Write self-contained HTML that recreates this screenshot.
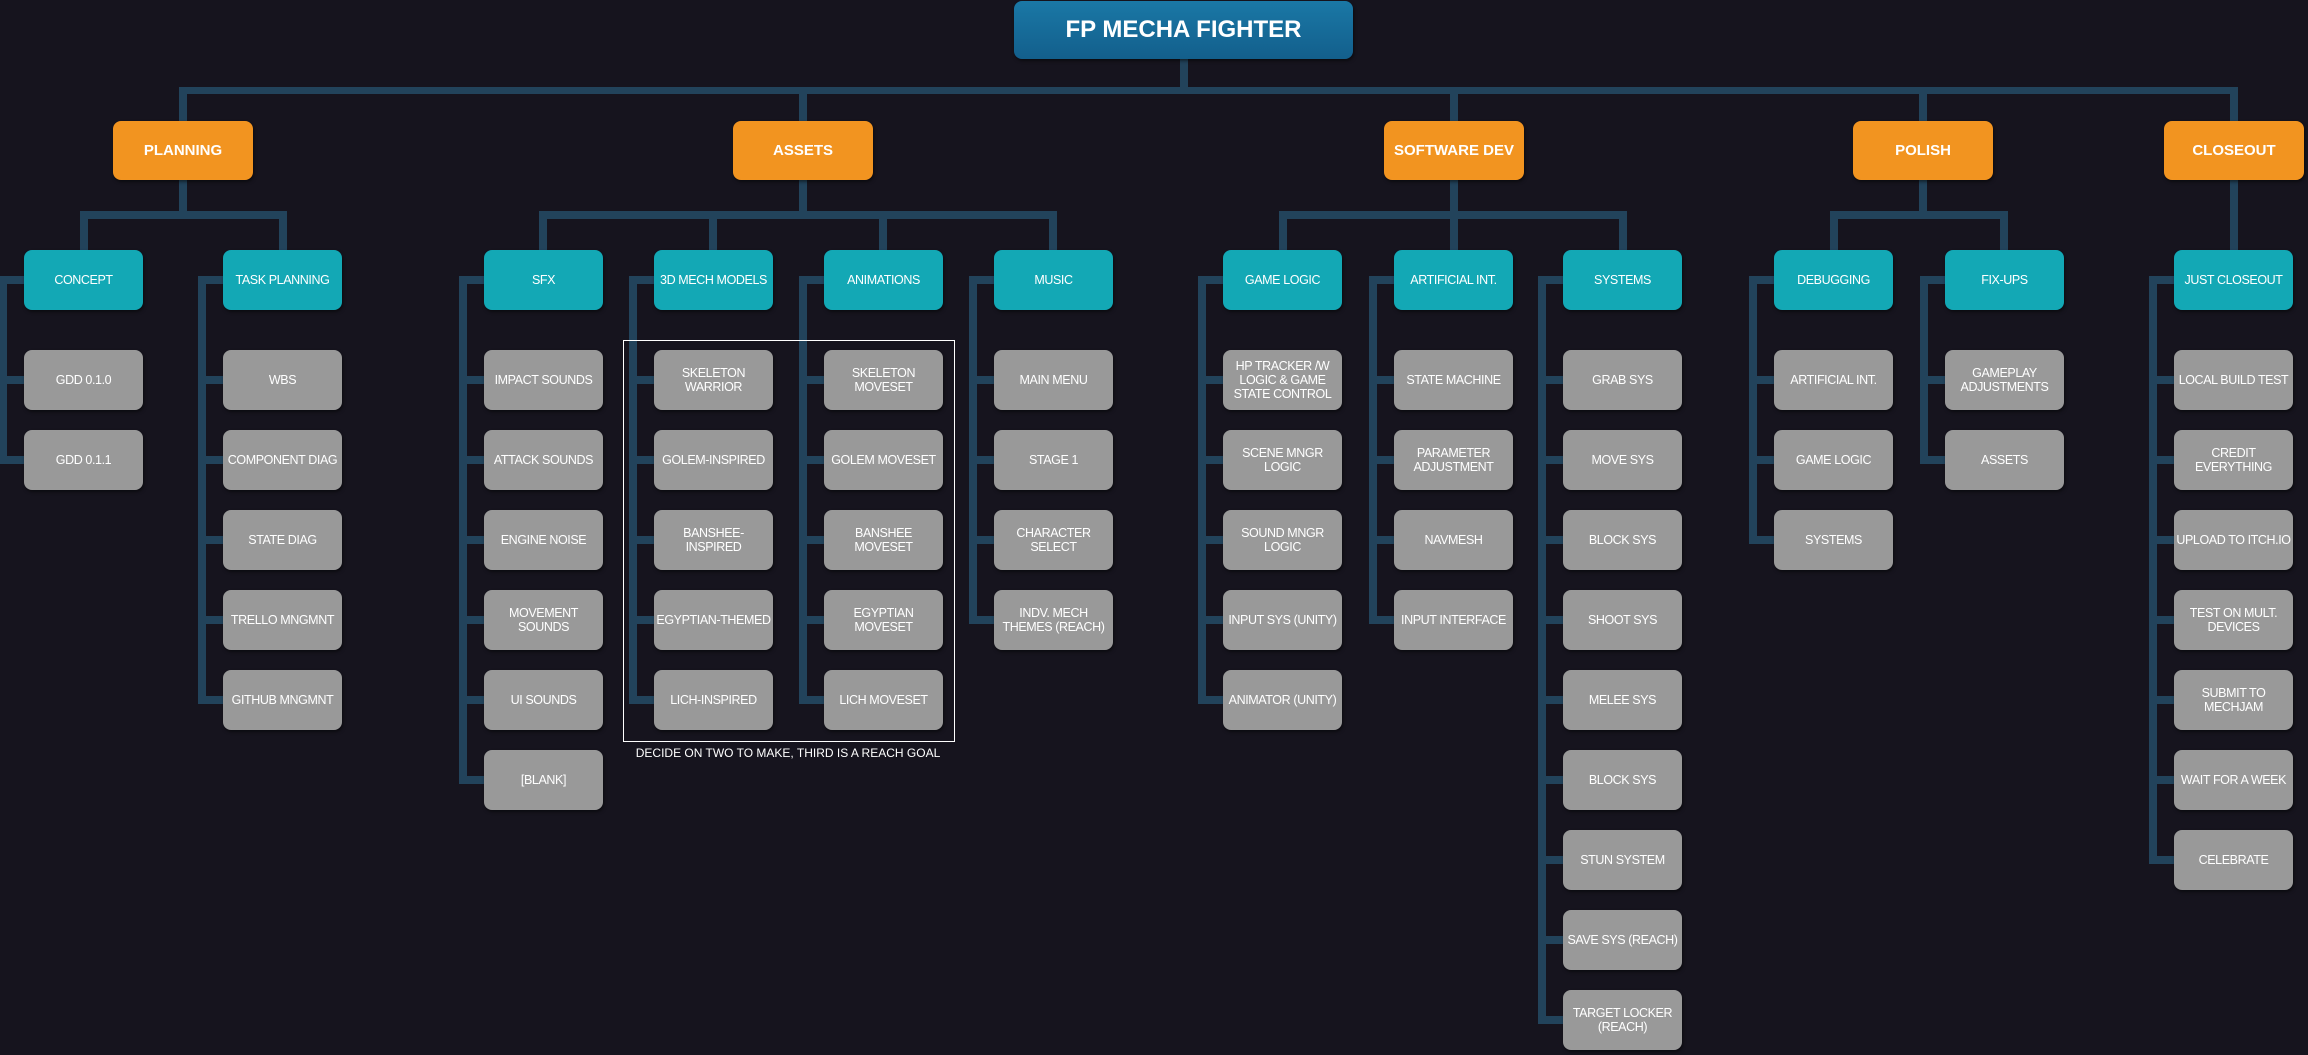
<!DOCTYPE html>
<html><head><meta charset="utf-8"><style>
html,body{margin:0;padding:0}
body{width:2308px;height:1055px;background:#16141e;position:relative;overflow:hidden;font-family:"Liberation Sans",sans-serif}
.l{position:absolute;background:#22435b}
.b{position:absolute;width:119px;height:60px;border-radius:8px;display:flex;align-items:center;justify-content:center;text-align:center;color:#fff;font-size:12.5px;letter-spacing:-0.4px;line-height:14px;white-space:nowrap;box-shadow:1px 2px 3px rgba(0,0,0,.5);box-sizing:border-box;padding:0}
.g{background:#999}
.t{background:#13a8b5}
.o{background:#f29420;width:140px;height:59px;font-weight:bold;font-size:15px;letter-spacing:0}
</style></head><body>
<!-- top -->
<div class="l" style="left:1180px;top:59px;width:8px;height:35px"></div>
<div class="l" style="left:179px;top:87px;width:2059px;height:7px"></div>
<div class="l" style="left:179px;top:87px;width:8px;height:34px"></div>
<div class="l" style="left:799px;top:87px;width:8px;height:34px"></div>
<div class="l" style="left:1450px;top:87px;width:8px;height:34px"></div>
<div class="l" style="left:1919px;top:87px;width:8px;height:34px"></div>
<div class="l" style="left:2230px;top:87px;width:8px;height:34px"></div>
<!-- L1 to L2 -->
<div class="l" style="left:179px;top:180px;width:8px;height:39px"></div>
<div class="l" style="left:80px;top:211px;width:207px;height:8px"></div>
<div class="l" style="left:80px;top:211px;width:8px;height:39px"></div>
<div class="l" style="left:279px;top:211px;width:8px;height:39px"></div>
<div class="l" style="left:799px;top:180px;width:8px;height:39px"></div>
<div class="l" style="left:539px;top:211px;width:518px;height:8px"></div>
<div class="l" style="left:539px;top:211px;width:8px;height:39px"></div>
<div class="l" style="left:709px;top:211px;width:8px;height:39px"></div>
<div class="l" style="left:879px;top:211px;width:8px;height:39px"></div>
<div class="l" style="left:1049px;top:211px;width:8px;height:39px"></div>
<div class="l" style="left:1450px;top:180px;width:8px;height:39px"></div>
<div class="l" style="left:1279px;top:211px;width:348px;height:8px"></div>
<div class="l" style="left:1279px;top:211px;width:8px;height:39px"></div>
<div class="l" style="left:1450px;top:211px;width:8px;height:39px"></div>
<div class="l" style="left:1619px;top:211px;width:8px;height:39px"></div>
<div class="l" style="left:1919px;top:180px;width:8px;height:39px"></div>
<div class="l" style="left:1830px;top:211px;width:178px;height:8px"></div>
<div class="l" style="left:1830px;top:211px;width:8px;height:39px"></div>
<div class="l" style="left:2000px;top:211px;width:8px;height:39px"></div>
<div class="l" style="left:2230px;top:180px;width:8px;height:70px"></div>
<!-- branches -->
<div class="l" style="left:-1px;top:276px;width:8px;height:188px"></div>
<div class="l" style="left:198px;top:276px;width:8px;height:428px"></div>
<div class="l" style="left:459px;top:276px;width:8px;height:508px"></div>
<div class="l" style="left:629px;top:276px;width:8px;height:428px"></div>
<div class="l" style="left:799px;top:276px;width:8px;height:428px"></div>
<div class="l" style="left:969px;top:276px;width:8px;height:348px"></div>
<div class="l" style="left:1198px;top:276px;width:8px;height:428px"></div>
<div class="l" style="left:1369px;top:276px;width:8px;height:348px"></div>
<div class="l" style="left:1538px;top:276px;width:8px;height:748px"></div>
<div class="l" style="left:1749px;top:276px;width:8px;height:268px"></div>
<div class="l" style="left:1920px;top:276px;width:8px;height:188px"></div>
<div class="l" style="left:2149px;top:276px;width:8px;height:588px"></div>
<!-- stubs -->
<div class="l" style="left:-1px;top:276px;width:25px;height:8px"></div><div class="l" style="left:-1px;top:376px;width:25px;height:8px"></div><div class="l" style="left:-1px;top:456px;width:25px;height:8px"></div>
<div class="l" style="left:198px;top:276px;width:25px;height:8px"></div><div class="l" style="left:198px;top:376px;width:25px;height:8px"></div><div class="l" style="left:198px;top:456px;width:25px;height:8px"></div><div class="l" style="left:198px;top:536px;width:25px;height:8px"></div><div class="l" style="left:198px;top:616px;width:25px;height:8px"></div><div class="l" style="left:198px;top:696px;width:25px;height:8px"></div>
<div class="l" style="left:459px;top:276px;width:25px;height:8px"></div><div class="l" style="left:459px;top:376px;width:25px;height:8px"></div><div class="l" style="left:459px;top:456px;width:25px;height:8px"></div><div class="l" style="left:459px;top:536px;width:25px;height:8px"></div><div class="l" style="left:459px;top:616px;width:25px;height:8px"></div><div class="l" style="left:459px;top:696px;width:25px;height:8px"></div><div class="l" style="left:459px;top:776px;width:25px;height:8px"></div>
<div class="l" style="left:629px;top:276px;width:25px;height:8px"></div><div class="l" style="left:629px;top:376px;width:25px;height:8px"></div><div class="l" style="left:629px;top:456px;width:25px;height:8px"></div><div class="l" style="left:629px;top:536px;width:25px;height:8px"></div><div class="l" style="left:629px;top:616px;width:25px;height:8px"></div><div class="l" style="left:629px;top:696px;width:25px;height:8px"></div>
<div class="l" style="left:799px;top:276px;width:25px;height:8px"></div><div class="l" style="left:799px;top:376px;width:25px;height:8px"></div><div class="l" style="left:799px;top:456px;width:25px;height:8px"></div><div class="l" style="left:799px;top:536px;width:25px;height:8px"></div><div class="l" style="left:799px;top:616px;width:25px;height:8px"></div><div class="l" style="left:799px;top:696px;width:25px;height:8px"></div>
<div class="l" style="left:969px;top:276px;width:25px;height:8px"></div><div class="l" style="left:969px;top:376px;width:25px;height:8px"></div><div class="l" style="left:969px;top:456px;width:25px;height:8px"></div><div class="l" style="left:969px;top:536px;width:25px;height:8px"></div><div class="l" style="left:969px;top:616px;width:25px;height:8px"></div>
<div class="l" style="left:1198px;top:276px;width:25px;height:8px"></div><div class="l" style="left:1198px;top:376px;width:25px;height:8px"></div><div class="l" style="left:1198px;top:456px;width:25px;height:8px"></div><div class="l" style="left:1198px;top:536px;width:25px;height:8px"></div><div class="l" style="left:1198px;top:616px;width:25px;height:8px"></div><div class="l" style="left:1198px;top:696px;width:25px;height:8px"></div>
<div class="l" style="left:1369px;top:276px;width:25px;height:8px"></div><div class="l" style="left:1369px;top:376px;width:25px;height:8px"></div><div class="l" style="left:1369px;top:456px;width:25px;height:8px"></div><div class="l" style="left:1369px;top:536px;width:25px;height:8px"></div><div class="l" style="left:1369px;top:616px;width:25px;height:8px"></div>
<div class="l" style="left:1538px;top:276px;width:25px;height:8px"></div><div class="l" style="left:1538px;top:376px;width:25px;height:8px"></div><div class="l" style="left:1538px;top:456px;width:25px;height:8px"></div><div class="l" style="left:1538px;top:536px;width:25px;height:8px"></div><div class="l" style="left:1538px;top:616px;width:25px;height:8px"></div><div class="l" style="left:1538px;top:696px;width:25px;height:8px"></div><div class="l" style="left:1538px;top:776px;width:25px;height:8px"></div><div class="l" style="left:1538px;top:856px;width:25px;height:8px"></div><div class="l" style="left:1538px;top:936px;width:25px;height:8px"></div><div class="l" style="left:1538px;top:1016px;width:25px;height:8px"></div>
<div class="l" style="left:1749px;top:276px;width:25px;height:8px"></div><div class="l" style="left:1749px;top:376px;width:25px;height:8px"></div><div class="l" style="left:1749px;top:456px;width:25px;height:8px"></div><div class="l" style="left:1749px;top:536px;width:25px;height:8px"></div>
<div class="l" style="left:1920px;top:276px;width:25px;height:8px"></div><div class="l" style="left:1920px;top:376px;width:25px;height:8px"></div><div class="l" style="left:1920px;top:456px;width:25px;height:8px"></div>
<div class="l" style="left:2149px;top:276px;width:25px;height:8px"></div><div class="l" style="left:2149px;top:376px;width:25px;height:8px"></div><div class="l" style="left:2149px;top:456px;width:25px;height:8px"></div><div class="l" style="left:2149px;top:536px;width:25px;height:8px"></div><div class="l" style="left:2149px;top:616px;width:25px;height:8px"></div><div class="l" style="left:2149px;top:696px;width:25px;height:8px"></div><div class="l" style="left:2149px;top:776px;width:25px;height:8px"></div><div class="l" style="left:2149px;top:856px;width:25px;height:8px"></div>

<div style="position:absolute;left:623px;top:340px;width:330px;height:400px;border:1px solid #fff"></div>
<div style="position:absolute;left:623px;top:746px;width:330px;text-align:center;color:#fff;font-size:12px">DECIDE ON TWO TO MAKE, THIRD IS A REACH GOAL</div>

<div class="b" style="left:1014px;top:1px;width:339px;height:58px;background:linear-gradient(#1a78a6,#135f8c);font-size:24px;font-weight:bold;letter-spacing:0">FP MECHA FIGHTER</div>
<div class="b o" style="left:113px;top:121px">PLANNING</div>
<div class="b o" style="left:733px;top:121px">ASSETS</div>
<div class="b o" style="left:1384px;top:121px">SOFTWARE DEV</div>
<div class="b o" style="left:1853px;top:121px">POLISH</div>
<div class="b o" style="left:2164px;top:121px">CLOSEOUT</div>

<div class="b t" style="left:24px;top:250px">CONCEPT</div>
<div class="b t" style="left:223px;top:250px">TASK PLANNING</div>
<div class="b t" style="left:484px;top:250px">SFX</div>
<div class="b t" style="left:654px;top:250px">3D MECH MODELS</div>
<div class="b t" style="left:824px;top:250px">ANIMATIONS</div>
<div class="b t" style="left:994px;top:250px">MUSIC</div>
<div class="b t" style="left:1223px;top:250px">GAME LOGIC</div>
<div class="b t" style="left:1394px;top:250px">ARTIFICIAL INT.</div>
<div class="b t" style="left:1563px;top:250px">SYSTEMS</div>
<div class="b t" style="left:1774px;top:250px">DEBUGGING</div>
<div class="b t" style="left:1945px;top:250px">FIX-UPS</div>
<div class="b t" style="left:2174px;top:250px">JUST CLOSEOUT</div>

<div class="b g" style="left:24px;top:350px">GDD 0.1.0</div>
<div class="b g" style="left:24px;top:430px">GDD 0.1.1</div>

<div class="b g" style="left:223px;top:350px">WBS</div>
<div class="b g" style="left:223px;top:430px">COMPONENT DIAG</div>
<div class="b g" style="left:223px;top:510px">STATE DIAG</div>
<div class="b g" style="left:223px;top:590px">TRELLO MNGMNT</div>
<div class="b g" style="left:223px;top:670px">GITHUB MNGMNT</div>

<div class="b g" style="left:484px;top:350px">IMPACT SOUNDS</div>
<div class="b g" style="left:484px;top:430px">ATTACK SOUNDS</div>
<div class="b g" style="left:484px;top:510px">ENGINE NOISE</div>
<div class="b g" style="left:484px;top:590px">MOVEMENT<br>SOUNDS</div>
<div class="b g" style="left:484px;top:670px">UI SOUNDS</div>
<div class="b g" style="left:484px;top:750px">[BLANK]</div>

<div class="b g" style="left:654px;top:350px">SKELETON<br>WARRIOR</div>
<div class="b g" style="left:654px;top:430px">GOLEM-INSPIRED</div>
<div class="b g" style="left:654px;top:510px">BANSHEE-<br>INSPIRED</div>
<div class="b g" style="left:654px;top:590px">EGYPTIAN-THEMED</div>
<div class="b g" style="left:654px;top:670px">LICH-INSPIRED</div>

<div class="b g" style="left:824px;top:350px">SKELETON<br>MOVESET</div>
<div class="b g" style="left:824px;top:430px">GOLEM MOVESET</div>
<div class="b g" style="left:824px;top:510px">BANSHEE<br>MOVESET</div>
<div class="b g" style="left:824px;top:590px">EGYPTIAN<br>MOVESET</div>
<div class="b g" style="left:824px;top:670px">LICH MOVESET</div>

<div class="b g" style="left:994px;top:350px">MAIN MENU</div>
<div class="b g" style="left:994px;top:430px">STAGE 1</div>
<div class="b g" style="left:994px;top:510px">CHARACTER<br>SELECT</div>
<div class="b g" style="left:994px;top:590px">INDV. MECH<br>THEMES (REACH)</div>

<div class="b g" style="left:1223px;top:350px">HP TRACKER /W<br>LOGIC &amp; GAME<br>STATE CONTROL</div>
<div class="b g" style="left:1223px;top:430px">SCENE MNGR<br>LOGIC</div>
<div class="b g" style="left:1223px;top:510px">SOUND MNGR<br>LOGIC</div>
<div class="b g" style="left:1223px;top:590px">INPUT SYS (UNITY)</div>
<div class="b g" style="left:1223px;top:670px">ANIMATOR (UNITY)</div>

<div class="b g" style="left:1394px;top:350px">STATE MACHINE</div>
<div class="b g" style="left:1394px;top:430px">PARAMETER<br>ADJUSTMENT</div>
<div class="b g" style="left:1394px;top:510px">NAVMESH</div>
<div class="b g" style="left:1394px;top:590px">INPUT INTERFACE</div>

<div class="b g" style="left:1563px;top:350px">GRAB SYS</div>
<div class="b g" style="left:1563px;top:430px">MOVE SYS</div>
<div class="b g" style="left:1563px;top:510px">BLOCK SYS</div>
<div class="b g" style="left:1563px;top:590px">SHOOT SYS</div>
<div class="b g" style="left:1563px;top:670px">MELEE SYS</div>
<div class="b g" style="left:1563px;top:750px">BLOCK SYS</div>
<div class="b g" style="left:1563px;top:830px">STUN SYSTEM</div>
<div class="b g" style="left:1563px;top:910px">SAVE SYS (REACH)</div>
<div class="b g" style="left:1563px;top:990px">TARGET LOCKER<br>(REACH)</div>

<div class="b g" style="left:1774px;top:350px">ARTIFICIAL INT.</div>
<div class="b g" style="left:1774px;top:430px">GAME LOGIC</div>
<div class="b g" style="left:1774px;top:510px">SYSTEMS</div>

<div class="b g" style="left:1945px;top:350px">GAMEPLAY<br>ADJUSTMENTS</div>
<div class="b g" style="left:1945px;top:430px">ASSETS</div>

<div class="b g" style="left:2174px;top:350px">LOCAL BUILD TEST</div>
<div class="b g" style="left:2174px;top:430px">CREDIT<br>EVERYTHING</div>
<div class="b g" style="left:2174px;top:510px">UPLOAD TO ITCH.IO</div>
<div class="b g" style="left:2174px;top:590px">TEST ON MULT.<br>DEVICES</div>
<div class="b g" style="left:2174px;top:670px">SUBMIT TO<br>MECHJAM</div>
<div class="b g" style="left:2174px;top:750px">WAIT FOR A WEEK</div>
<div class="b g" style="left:2174px;top:830px">CELEBRATE</div>
</body></html>
